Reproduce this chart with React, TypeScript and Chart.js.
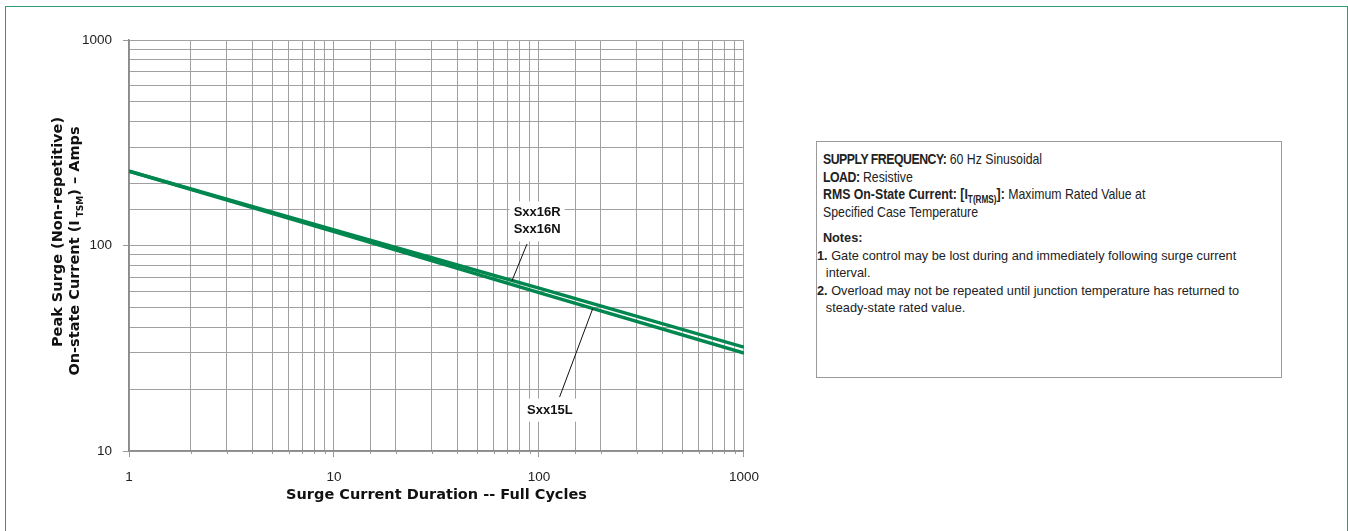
import React, { useEffect, useRef } from 'react';
import { Chart, registerables } from 'chart.js';

Chart.register(...registerables);

// ---- data ----
const cycles = [1, 10, 100, 1000];
const sxx16RN = [230, 119, 62, 32];
const sxx15L = [230, 117, 59, 30];
const xTickLabels = [1, 10, 100, 1000];
const yTickLabels = [10, 100, 1000];
const seriesNames = ['Sxx16R / Sxx16N', 'Sxx15L'];

// annotation anchors (data units)
const ann16 = { lines: ['Sxx16R', 'Sxx16N'], x: 98, y: 131, fromX: 87.4, fromY: 101.6, toX: 73.8, toY: 67.3 };
const ann15 = { lines: ['Sxx15L'], x: 113, y: 15.8, fromX: 126, fromY: 18.3, toX: 183, toY: 49.4 };

const GREEN = '#00874f';
const FONT = '"Liberation Sans", Arial, Helvetica, sans-serif';
const TITLE_FONT = '"DejaVu Sans", "Liberation Sans", Arial, sans-serif';

const isDecade = (v: number) => Math.abs(Math.log10(v) - Math.round(Math.log10(v))) < 1e-9;

const annotationPlugin = {
  id: 'leaderLabels',
  afterDatasetsDraw(chart: any) {
    const { ctx, scales } = chart;
    const xs = scales.x;
    const ys = scales.y;
    // minor tick marks on x axis
    ctx.save();
    ctx.strokeStyle = '#999';
    ctx.lineWidth = 1;
    xs.ticks.forEach((t: any) => {
      if (isDecade(t.value)) return;
      const px = Math.round(xs.getPixelForValue(t.value)) + 0.5;
      ctx.beginPath();
      ctx.moveTo(px, chart.chartArea.bottom);
      ctx.lineTo(px, chart.chartArea.bottom + 3);
      ctx.stroke();
    });
    ctx.restore();

    const draw = (a: any) => {
      const cx = xs.getPixelForValue(a.x);
      const cy = ys.getPixelForValue(a.y);
      const fx = xs.getPixelForValue(a.fromX);
      const fy = ys.getPixelForValue(a.fromY);
      const tx = xs.getPixelForValue(a.toX);
      const ty = ys.getPixelForValue(a.toY);
      ctx.save();
      ctx.font = `bold 13px ${FONT}`;
      const lh = 17;
      const w = Math.max(...a.lines.map((l: string) => ctx.measureText(l).width)) + 8;
      const h = lh * a.lines.length + 6;
      ctx.fillStyle = '#ffffff';
      ctx.fillRect(cx - w / 2, cy - h / 2, w, h);
      ctx.strokeStyle = '#111';
      ctx.lineWidth = 1;
      ctx.beginPath();
      ctx.moveTo(fx, fy);
      ctx.lineTo(tx, ty);
      ctx.stroke();
      ctx.fillStyle = '#111';
      ctx.textAlign = 'center';
      ctx.textBaseline = 'middle';
      a.lines.forEach((l: string, i: number) => {
        ctx.fillText(l, cx, cy - ((a.lines.length - 1) * lh) / 2 + i * lh);
      });
      ctx.restore();
    };
    draw(ann16);
    draw(ann15);
  },
};

export default function App() {
  const ref = useRef<HTMLCanvasElement>(null);

  useEffect(() => {
    if (!ref.current) return;
    const gridColor = '#a0a0a0';
    const chart = new Chart(ref.current, {
      type: 'line',
      data: {
        datasets: [
          {
            label: seriesNames[0],
            data: cycles.map((c, i) => ({ x: c, y: sxx16RN[i] })),
            borderColor: GREEN,
            borderWidth: 3.5,
            pointRadius: 0,
            tension: 0,
          },
          {
            label: seriesNames[1],
            data: cycles.map((c, i) => ({ x: c, y: sxx15L[i] })),
            borderColor: GREEN,
            borderWidth: 3.5,
            pointRadius: 0,
            tension: 0,
          },
        ],
      },
      options: {
        animation: false,
        responsive: false,
        maintainAspectRatio: false,
        layout: { padding: { top: 40, right: 16, bottom: 0, left: 0 } },
        plugins: { legend: { display: false }, tooltip: { enabled: false } },
        scales: {
          x: {
            type: 'logarithmic',
            min: 1,
            max: 1000,
            ticks: {
              autoSkip: false,
              maxRotation: 0,
              padding: 12,
              color: '#222',
              font: { family: FONT, size: 13.5 },
              callback: (v: any) => (xTickLabels.includes(Number(v)) ? String(v) : ''),
            },
            grid: {
              color: gridColor,
              lineWidth: 1,
              tickLength: 6,
              tickColor: (c: any) => (c.tick && isDecade(c.tick.value) ? '#999' : 'rgba(0,0,0,0)'),
            },
            border: { color: '#8a8a8a', width: 1.5 },
            title: {
              display: true,
              text: 'Surge Current Duration -- Full Cycles',
              color: '#111',
              font: { family: TITLE_FONT, size: 14.5, weight: 'bold' },
              padding: { top: 0, bottom: 27 },
            },
            afterFit: (s: any) => {
              s.height = 80;
            },
          },
          y: {
            type: 'logarithmic',
            min: 10,
            max: 1000,
            ticks: {
              autoSkip: false,
              padding: 11,
              color: '#222',
              font: { family: FONT, size: 13.5 },
              callback: (v: any) => (yTickLabels.includes(Number(v)) ? String(v) : ''),
            },
            grid: {
              color: gridColor,
              lineWidth: 1,
              tickLength: 6,
              tickColor: (c: any) => (c.tick && isDecade(c.tick.value) ? '#999' : 'rgba(0,0,0,0)'),
            },
            border: { color: '#8a8a8a', width: 1.5 },
            title: { display: false },
            afterFit: (s: any) => {
              s.width = 129;
            },
          },
        },
      } as any,
      plugins: [annotationPlugin],
    });
    return () => chart.destroy();
  }, []);

  const HS = 0.82; // condensed factor for header text
  const NS = 0.98; // condensed factor for notes text
  const lineStyle: React.CSSProperties = { margin: 0, lineHeight: '17.6px', whiteSpace: 'nowrap' };
  const boldTight: React.CSSProperties = { letterSpacing: '-0.6px' };

  return (
    <div style={{ position: 'absolute', left: 0, top: 0, width: 1348, height: 531, overflow: 'hidden', background: '#fff' }}>
      <div
        style={{
          position: 'absolute',
          left: 5,
          top: 6,
          width: 1341,
          height: 600,
          border: '1px solid #2f9a70',
        }}
      />
      <canvas ref={ref} width={771} height={531} style={{ position: 'absolute', left: 0, top: 0, width: 771, height: 531 }} />
      <div
        style={{
          position: 'absolute',
          left: 66,
          top: 251,
          width: 340,
          transform: 'translate(-50%, -50%) rotate(-90deg)',
          textAlign: 'center',
          fontFamily: TITLE_FONT,
          fontWeight: 'bold',
          fontSize: 14.5,
          lineHeight: '17px',
          color: '#111',
          whiteSpace: 'nowrap',
        }}
      >
        <div style={{ position: 'relative', left: 19 }}>Peak Surge (Non-repetitive)</div>
        <div>
          On-state Current (I<sub style={{ fontSize: 9, marginLeft: 3, verticalAlign: 'sub', lineHeight: 0 }}>TSM</sub>) – Amps
        </div>
      </div>
      <div
        style={{
          position: 'absolute',
          left: 816,
          top: 141,
          width: 466,
          height: 237,
          boxSizing: 'border-box',
          border: '1px solid #9a9a9a',
          color: '#222',
          fontFamily: FONT,
        }}
      >
        <div
          style={{
            position: 'absolute',
            left: 6,
            top: 8,
            fontSize: 15,
            transform: `scaleX(${HS})`,
            transformOrigin: 'left top',
          }}
        >
          <p style={lineStyle}>
            <b style={boldTight}>SUPPLY FREQUENCY:</b> 60 Hz Sinusoidal
          </p>
          <p style={lineStyle}>
            <b style={boldTight}>LOAD:</b> Resistive
          </p>
          <p style={lineStyle}>
            <b>
              RMS On-State Current: [I<sub style={{ fontSize: 10, lineHeight: 0 }}>T(RMS)</sub>]:
            </b>{' '}
            Maximum Rated Value at
          </p>
          <p style={lineStyle}>Specified Case Temperature</p>
        </div>
        <div
          style={{
            position: 'absolute',
            left: 0,
            top: 87,
            fontSize: 13,
            transform: `scaleX(${NS})`,
            transformOrigin: 'left top',
          }}
        >
          <p style={{ ...lineStyle, paddingLeft: 6 }}>
            <b>Notes:</b>
          </p>
          <p style={{ ...lineStyle, paddingLeft: 0 }}>
            <b>1.</b> Gate control may be lost during and immediately following surge current
          </p>
          <p style={{ ...lineStyle, paddingLeft: 9 }}>interval.</p>
          <p style={{ ...lineStyle, paddingLeft: 0 }}>
            <b>2.</b> Overload may not be repeated until junction temperature has returned to
          </p>
          <p style={{ ...lineStyle, paddingLeft: 9 }}>steady-state rated value.</p>
        </div>
      </div>
    </div>
  );
}
